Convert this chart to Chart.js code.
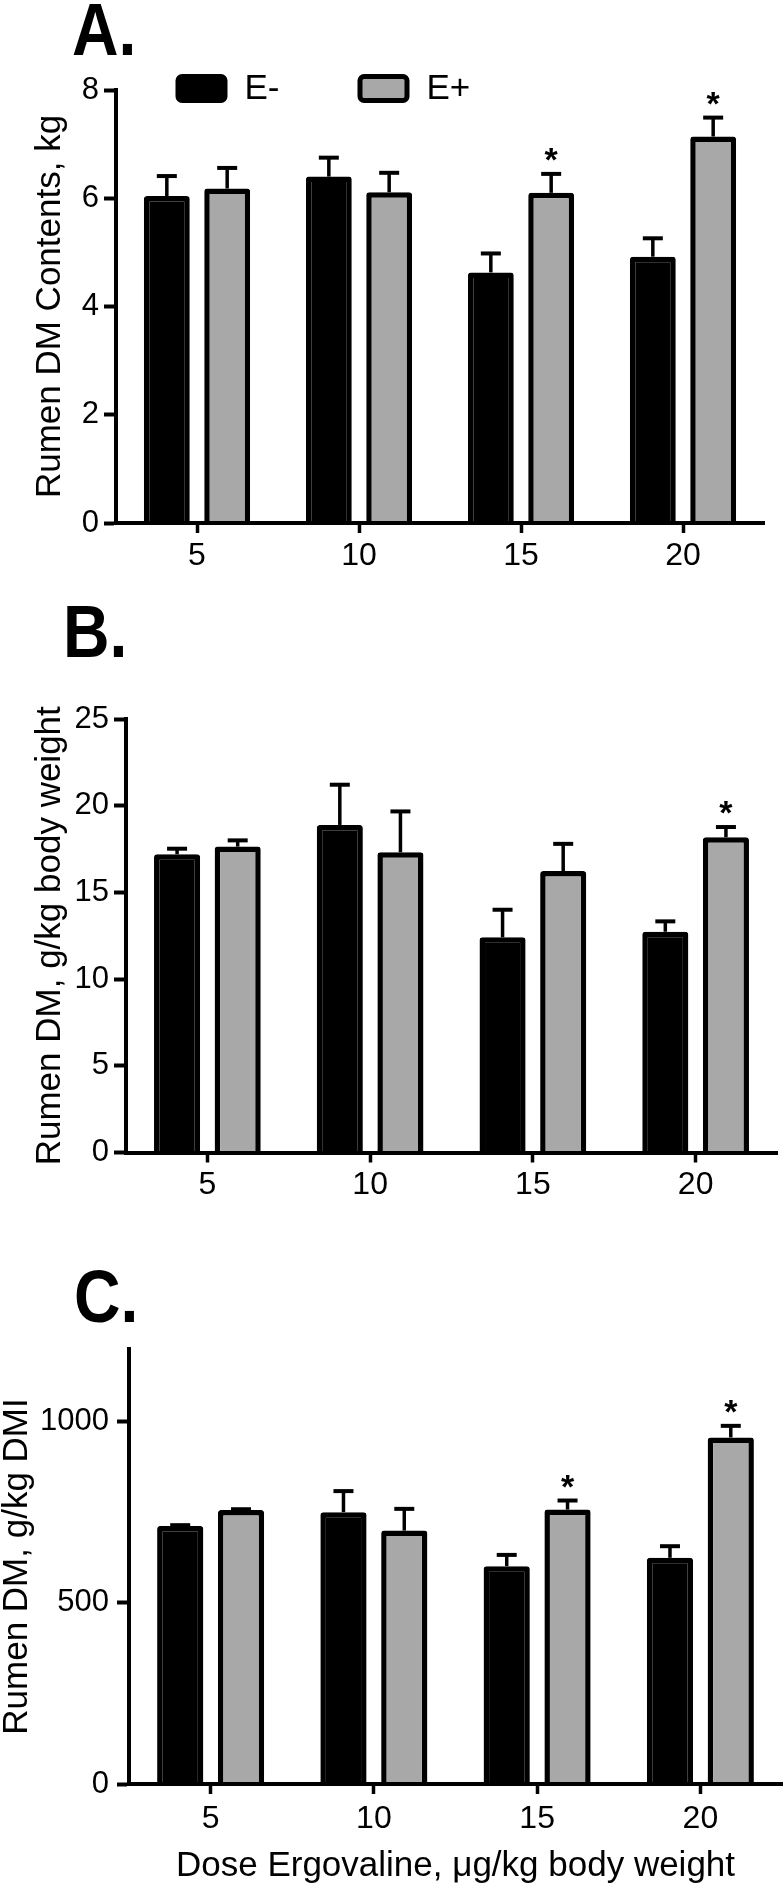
<!DOCTYPE html>
<html>
<head>
<meta charset="utf-8">
<script src="https://cdn.jsdelivr.net/npm/chart.js@4.4.1/dist/chart.umd.min.js"></script>
<style>
  body { margin: 0; background: #fff; }
  #wrap { position: relative; width: 784px; height: 1887px; }
  canvas { position: absolute; left: 0; }
</style>
</head>
<body>
<div id="wrap">
  <canvas id="panelA" width="784" height="590" style="top:0"></canvas>
  <canvas id="panelB" width="784" height="630" style="top:590px"></canvas>
  <canvas id="panelC" width="784" height="667" style="top:1220px"></canvas>
</div>
<script>
// Doses and groups
const doses = ['5', '10', '15', '20'];
const groups = ['E-', 'E+'];

// A. rumen DM contents, kg (mean, SEM, significance)
const contentsNeg = [6.04, 6.40, 4.63, 4.92];
const contentsNegSem = [0.37, 0.35, 0.35, 0.34];
const contentsPos = [6.18, 6.11, 6.10, 7.14];
const contentsPosSem = [0.38, 0.36, 0.35, 0.35];
const contentsSig = [false, false, true, true];
const contentsTicks = [0, 2, 4, 6, 8];

// B. rumen DM, g/kg body weight
const bodyNeg = [17.2, 18.89, 12.41, 12.73];
const bodyNegSem = [0.32, 2.32, 1.59, 0.60];
const bodyPos = [17.64, 17.31, 16.23, 18.18];
const bodyPosSem = [0.36, 2.36, 1.57, 0.59];
const bodySig = [false, false, false, true];
const bodyTicks = [0, 5, 10, 15, 20, 25];

// C. rumen DM, g/kg DMI
const dmiNeg = [712, 750, 601, 624];
const dmiNegSem = [2, 58, 31, 32];
const dmiPos = [756, 699, 757, 956];
const dmiPosSem = [2, 60, 25, 32];
const dmiSig = [false, false, true, true];
const dmiTicks = [0, 500, 1000];

const FONT = '"Liberation Sans", Arial, Helvetica, sans-serif';
const GRAY = '#a8a8a8';

// error bars (upper only) and significance stars
const errorBars = {
    id: 'errorBars',
    afterDatasetsDraw(chart) {
        const ctx = chart.ctx;
        const yScale = chart.scales.y;
        ctx.save();
        ctx.strokeStyle = '#000';
        ctx.fillStyle = '#000';
        chart.data.datasets.forEach((ds, i) => {
            chart.getDatasetMeta(i).data.forEach((bar, j) => {
                const top = yScale.getPixelForValue(ds.data[j] + ds.sem[j]);
                ctx.lineWidth = 3.5;
                ctx.beginPath();
                ctx.moveTo(bar.x, bar.y);
                ctx.lineTo(bar.x, top);
                ctx.stroke();
                ctx.lineWidth = 4;
                ctx.beginPath();
                ctx.moveTo(bar.x - 10, top);
                ctx.lineTo(bar.x + 10, top);
                ctx.stroke();
                if (ds.sig && ds.sig[j]) {
                    ctx.font = 'bold 34px ' + FONT;
                    ctx.textAlign = 'center';
                    ctx.textBaseline = 'alphabetic';
                    ctx.fillText('*', bar.x, top - 3);
                }
            });
        });
        ctx.restore();
    }
};

// panel letter (A., B., C.)
const panelLetter = {
    id: 'panelLetter',
    afterDraw(chart, args, o) {
        const ctx = chart.ctx;
        ctx.save();
        ctx.translate(o.x, o.y);
        ctx.scale(0.87, 1);
        ctx.font = 'bold 74px ' + FONT;
        ctx.fillStyle = '#000';
        ctx.textBaseline = 'alphabetic';
        ctx.fillText(o.text, 0, 0);
        ctx.restore();
    }
};

// legend boxes drawn above the first panel
const legendBoxes = {
    id: 'legendBoxes',
    afterDraw(chart, args, o) {
        if (!o.show) return;
        const ctx = chart.ctx;
        ctx.save();
        chart.data.datasets.forEach((ds, i) => {
            const x = o.x + i * o.step;
            ctx.beginPath();
            ctx.roundRect(x + 2.5, o.y + 2.5, o.w - 5, o.h - 5, 4);
            ctx.fillStyle = ds.backgroundColor;
            ctx.fill();
            ctx.lineWidth = 5;
            ctx.strokeStyle = '#000';
            ctx.stroke();
            ctx.fillStyle = '#000';
            ctx.font = '35px ' + FONT;
            ctx.textAlign = 'left';
            ctx.textBaseline = 'middle';
            ctx.fillText(ds.label, x + o.textGap, o.y + o.h / 2 + 1);
        });
        ctx.restore();
    }
};

function makePanel(id, cfg) {
    const datasets = [
        { label: groups[0], data: cfg.neg, sem: cfg.negSem, sig: null, backgroundColor: '#000' },
        { label: groups[1], data: cfg.pos, sem: cfg.posSem, sig: cfg.sig, backgroundColor: GRAY }
    ].map(d => Object.assign(d, {
        borderColor: '#000',
        borderWidth: 5.5,
        borderRadius: 3,
        borderSkipped: 'start',
        categoryPercentage: 0.745,
        barPercentage: 0.76
    }));

    return new Chart(document.getElementById(id), {
        type: 'bar',
        data: { labels: doses, datasets: datasets },
        options: {
            responsive: false,
            animation: false,
            layout: { padding: { top: cfg.padTop, right: cfg.padRight, left: 0, bottom: 0 } },
            scales: {
                x: {
                    offset: true,
                    afterFit: s => { s.height = cfg.xHeight; },
                    grid: { offset: false, drawOnChartArea: false, drawTicks: true, tickLength: 10, tickWidth: 3.5, tickColor: '#000' },
                    border: { display: true, color: '#000', width: 4, z: 1 },
                    ticks: { color: '#000', padding: cfg.xPad, maxRotation: 0, autoSkip: false, font: { family: FONT, size: 32, lineHeight: 1 } },
                    title: {
                        display: !!cfg.xTitle,
                        text: cfg.xTitle || '',
                        color: '#000',
                        padding: { top: 0, bottom: 3.5 },
                        font: { family: FONT, size: 35, lineHeight: 1 }
                    }
                },
                y: {
                    min: 0,
                    max: cfg.max,
                    afterFit: s => { s.width = cfg.yWidth; },
                    afterBuildTicks: s => { s.ticks = cfg.ticks.map(v => ({ value: v })); },
                    grid: { drawOnChartArea: false, drawTicks: true, tickLength: 12, tickWidth: 4, tickColor: '#000' },
                    border: { display: true, color: '#000', width: 4, z: 1 },
                    ticks: {
                        color: '#000',
                        padding: cfg.yPad,
                        font: { family: FONT, size: 31, lineHeight: 1 },
                        callback: v => String(v)
                    },
                    title: {
                        display: true,
                        text: cfg.yTitle,
                        color: '#000',
                        padding: { top: cfg.yTitlePad, bottom: 0 },
                        font: { family: FONT, size: 35, lineHeight: 1 }
                    }
                }
            },
            plugins: {
                legend: { display: false },
                tooltip: { enabled: false },
                panelLetter: cfg.letter,
                legendBoxes: cfg.legend || { show: false }
            }
        },
        plugins: [errorBars, panelLetter, legendBoxes]
    });
}

makePanel('panelA', {
    neg: contentsNeg, negSem: contentsNegSem, pos: contentsPos, posSem: contentsPosSem, sig: contentsSig,
    max: 8, ticks: contentsTicks,
    yTitle: 'Rumen DM Contents, kg',
    padTop: 90, padRight: 20, xHeight: 67, yWidth: 116, xPad: 7, yPad: 5, yTitlePad: 32.5,
    letter: { text: 'A.', x: 72, y: 55 },
    legend: { show: true, x: 175.5, y: 74, w: 52, h: 29, step: 182, textGap: 69 }
});

makePanel('panelB', {
    neg: bodyNeg, negSem: bodyNegSem, pos: bodyPos, posSem: bodyPosSem, sig: bodySig,
    max: 25, ticks: bodyTicks,
    yTitle: 'Rumen DM, g/kg body weight',
    padTop: 129, padRight: 7, xHeight: 67.5, yWidth: 126, xPad: 7, yPad: 5, yTitlePad: 32.5,
    letter: { text: 'B.', x: 63, y: 67 }
});

makePanel('panelC', {
    neg: dmiNeg, negSem: dmiNegSem, pos: dmiPos, posSem: dmiPosSem, sig: dmiSig,
    max: 1200, ticks: dmiTicks,
    yTitle: 'Rumen DM, g/kg DMI',
    xTitle: 'Dose Ergovaline, \u03bcg/kg body weight',
    padTop: 129, padRight: 2, xHeight: 103, yWidth: 129, xPad: 9, yPad: 8, yTitlePad: 0,
    letter: { text: 'C.', x: 74, y: 102 }
});
</script>
</body>
</html>
